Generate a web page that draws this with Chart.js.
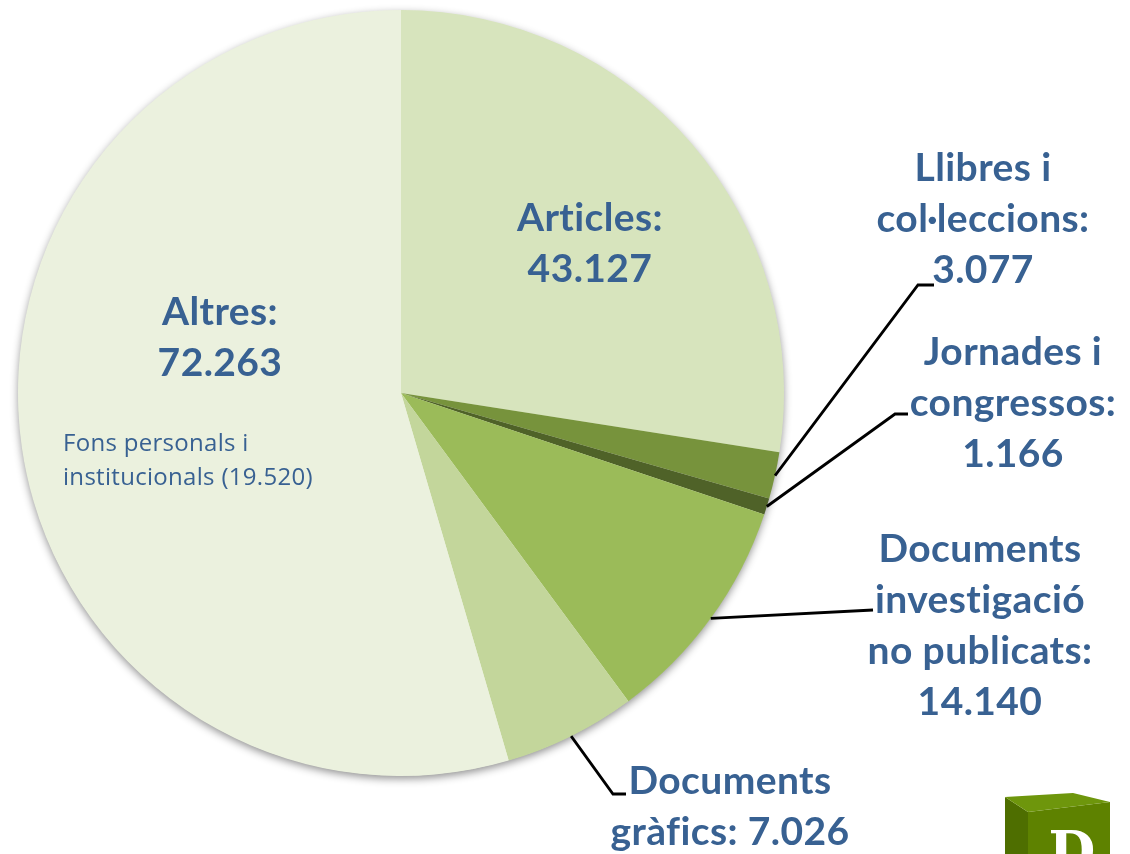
<!DOCTYPE html>
<html>
<head>
<meta charset="utf-8">
<script src="https://cdn.jsdelivr.net/npm/chart.js"></script>
<style>
  html, body { margin: 0; padding: 0; background: #ffffff; }
  #wrap { width: 1130px; height: 854px; position: relative; }
</style>
</head>
<body>
<div id="wrap"><canvas id="c" width="1130" height="854"></canvas></div>
<script>
// ---- data ----
const categories = ["Articles", "Llibres i col·leccions", "Jornades i congressos",
  "Documents investigació no publicats", "Documents gràfics", "Altres"];
const values = [27.47, 1.97, 0.69, 9.75, 5.58, 54.53];
// label texts as printed on the chart
const labelLines = [
  ["Articles:", "43.127"],
  ["Llibres i", "col·leccions:", "3.077"],
  ["Jornades i", "congressos:", "1.166"],
  ["Documents", "investigació", "no publicats:", "14.140"],
  ["Documents", "gràfics: 7.026"],
  ["Altres:", "72.263"]
];
const subNoteLines = ["Fons personals i", "institucionals (19.520)"];

// ---- styles / layout ----
const colors = ["#D7E4BD", "#77933C", "#4F6228", "#9BBB59", "#C3D69B", "#EBF1DE"];
const textColor = "#386192";
const labelFont = "bold 39px Lato, 'Open Sans', sans-serif";
const noteFont = "24px 'Open Sans', Lato, sans-serif";
// centre x and first-line middle y for each label, line height
const labelPos = [
  { x: 590, y: 218 },
  { x: 983, y: 168 },
  { x: 1013, y: 352 },
  { x: 980, y: 549 },
  { x: 730, y: 781 },
  { x: 220, y: 312 }
];
const lineH = 51;
// leader lines: elbow and end points (null = no leader)
const leaders = [
  null,
  [[918, 285], [934, 285]],
  [[895, 414], [908, 414]],
  [[873, 610]],
  [[613, 794], [626, 794]],
  null
];

const shadowPlugin = {
  id: 'pieShadow',
  beforeDatasetsDraw(chart) {
    const arc = chart.getDatasetMeta(0).data[0];
    if (!arc) return;
    const { x, y, outerRadius } = arc.getProps(['x', 'y', 'outerRadius'], true);
    const ctx = chart.ctx;
    ctx.save();
    ctx.shadowColor = 'rgba(0,0,0,0.45)';
    ctx.shadowBlur = 9;
    ctx.shadowOffsetX = 0;
    ctx.shadowOffsetY = 3;
    ctx.fillStyle = '#EBF1DE';
    ctx.beginPath();
    ctx.arc(x, y, outerRadius - 0.5, 0, Math.PI * 2);
    ctx.fill();
    ctx.restore();
  }
};

const labelPlugin = {
  id: 'pieLabels',
  afterDraw(chart) {
    const ctx = chart.ctx;
    const meta = chart.getDatasetMeta(0);
    ctx.save();
    // leader lines
    ctx.strokeStyle = '#000000';
    ctx.lineWidth = 2.8;
    ctx.lineJoin = 'miter';
    meta.data.forEach((arc, i) => {
      if (!leaders[i]) return;
      const p = arc.getProps(['x', 'y', 'startAngle', 'endAngle', 'outerRadius'], true);
      const mid = (p.startAngle + p.endAngle) / 2;
      const sx = p.x + Math.cos(mid) * p.outerRadius;
      const sy = p.y + Math.sin(mid) * p.outerRadius;
      ctx.beginPath();
      ctx.moveTo(sx, sy);
      leaders[i].forEach(pt => ctx.lineTo(pt[0], pt[1]));
      ctx.stroke();
    });
    // labels
    ctx.fillStyle = textColor;
    ctx.textAlign = 'center';
    ctx.textBaseline = 'middle';
    ctx.font = labelFont;
    if ('letterSpacing' in ctx) ctx.letterSpacing = '0.4px';
    labelLines.forEach((lines, i) => {
      lines.forEach((t, k) => ctx.fillText(t, labelPos[i].x, labelPos[i].y + k * lineH));
    });
    // note
    ctx.font = noteFont;
    if ('letterSpacing' in ctx) ctx.letterSpacing = '0.3px';
    ctx.textAlign = 'left';
    subNoteLines.forEach((t, k) => ctx.fillText(t, 63, 444 + k * 34));
    if ('letterSpacing' in ctx) ctx.letterSpacing = '0px';
    // logo cube (decoration)
    ctx.fillStyle = '#4E6E00';
    ctx.beginPath();
    ctx.moveTo(1005, 797); ctx.lineTo(1028, 812); ctx.lineTo(1028, 854); ctx.lineTo(1005, 854); ctx.closePath();
    ctx.fill();
    ctx.fillStyle = '#5E8200';
    ctx.beginPath();
    ctx.moveTo(1028, 812); ctx.lineTo(1110, 802); ctx.lineTo(1110, 854); ctx.lineTo(1028, 854); ctx.closePath();
    ctx.fill();
    ctx.fillStyle = '#6E960C';
    ctx.beginPath();
    ctx.moveTo(1005, 797); ctx.lineTo(1073, 793); ctx.lineTo(1110, 802); ctx.lineTo(1028, 812); ctx.closePath();
    ctx.fill();
    ctx.fillStyle = '#ffffff';
    ctx.font = "bold 54px 'DejaVu Serif', 'Liberation Serif', serif";
    ctx.textAlign = 'center';
    ctx.textBaseline = 'alphabetic';
    ctx.fillText('D', 1072, 870);
    ctx.restore();
  }
};

new Chart(document.getElementById('c'), {
  type: 'pie',
  data: {
    labels: categories,
    datasets: [{
      data: values,
      backgroundColor: colors,
      borderWidth: 0,
      hoverOffset: 0
    }]
  },
  options: {
    responsive: false,
    animation: false,
    events: [],
    layout: { padding: { left: 18, top: 10, right: 346, bottom: 78 } },
    plugins: {
      legend: { display: false },
      tooltip: { enabled: false },
      title: { display: false }
    }
  },
  plugins: [shadowPlugin, labelPlugin]
});
</script>
</body>
</html>
